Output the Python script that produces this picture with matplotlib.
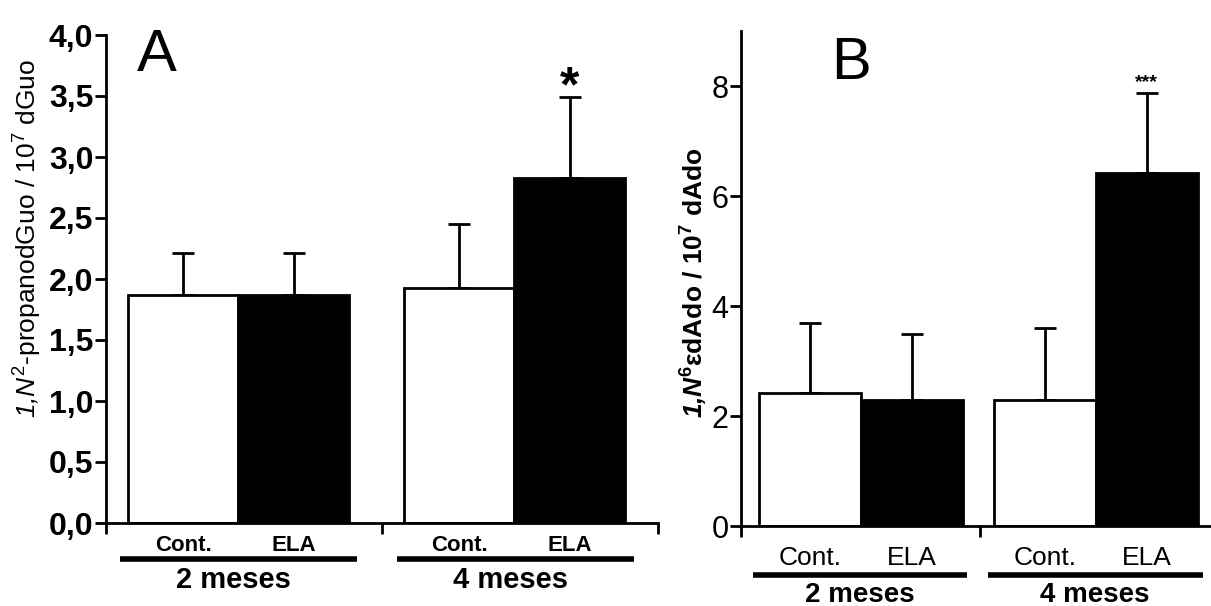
import matplotlib
matplotlib.use('Agg')
import matplotlib.pyplot as plt

plt.rcParams['font.family'] = ['Liberation Sans', 'DejaVu Sans']
plt.rcParams['mathtext.fontset'] = 'custom'
plt.rcParams['mathtext.rm'] = 'Liberation Sans'
plt.rcParams['mathtext.it'] = 'Liberation Sans:italic'
plt.rcParams['mathtext.sf'] = 'Liberation Sans:italic'
plt.rcParams['mathtext.bf'] = 'Liberation Sans:bold'
plt.rcParams['mathtext.bfit'] = 'Liberation Sans:bold:italic'

# Datos
grupos = ['Cont.', 'ELA', 'Cont.', 'ELA']
edades = ['2 meses', '4 meses']
colores = ['white', 'black', 'white', 'black']

media_A = [1.87, 1.87, 1.93, 2.83]
error_A = [0.34, 0.34, 0.52, 0.66]
media_B = [2.42, 2.29, 2.29, 6.42]
error_B = [1.27, 1.20, 1.31, 1.46]

fig = plt.figure(figsize=(12.11, 6.06), dpi=100)
W, H = 1211, 606


def px_axes(x0, x1, y_top, y_bot):
    return fig.add_axes([x0 / W, 1 - y_bot / H, (x1 - x0) / W, (y_bot - y_top) / H])


def panel(ax, medias, errores, pos, xmax, mid, ymax, lw=2):
    ax.bar(pos, medias, width=1.0, color=colores, edgecolor='black',
           linewidth=lw, zorder=2)
    ax.errorbar(pos, medias, yerr=[[0] * len(medias), errores], fmt='none',
                ecolor='black', elinewidth=lw, capsize=8, capthick=lw, zorder=1)
    ax.set_xlim(0, xmax)
    ax.set_ylim(0, ymax)
    for s in ['top', 'right']:
        ax.spines[s].set_visible(False)
    for s in ['left', 'bottom']:
        ax.spines[s].set_linewidth(2)
    ax.set_xticks([0, mid, xmax])
    ax.set_xticklabels([])
    ax.tick_params(axis='x', direction='out', length=8, width=2)
    ax.tick_params(axis='y', direction='out', length=8, width=2, pad=1)


# ---- Panel A ----
axA = px_axes(106, 658, 35, 523)
posA = [0.7, 1.7, 3.2, 4.2]
panel(axA, media_A, error_A, posA, 5.0, 2.5, 4.0)
axA.set_yticks([0, 0.5, 1, 1.5, 2, 2.5, 3, 3.5, 4])
axA.set_yticklabels([f'{v:.1f}'.replace('.', ',') for v in axA.get_yticks()],
                    fontsize=23, fontweight='bold')
trA = axA.get_xaxis_transform()
for p, g in zip(posA, grupos):
    axA.text(p, -0.047, g, transform=trA, ha='center', va='center',
             fontsize=16, fontweight='bold')
for (a, b), e in zip([(0.13, 2.27), (2.64, 4.78)], edades):
    axA.plot([a, b], [-0.074, -0.074], transform=trA, color='black', lw=4,
             clip_on=False, solid_capstyle='butt')
    axA.text((a + b) / 2 - 0.05, -0.117, e, transform=trA, ha='center', va='center',
             fontsize=21, fontweight='bold')
axA.text(0.092, 1.014, 'A', transform=axA.transAxes, fontsize=43, va='top', ha='center')
axA.text(posA[3], 3.56, '*', ha='center', va='center', fontsize=36, fontweight='bold')
fig.text(28 / W, 1 - 238 / H,
         r'$\mathsf{1{,}}\mathit{N}^{2}$-propanodGuo / 10$^{7}$ dGuo',
         rotation=90, ha='center', va='center', fontsize=19)

# ---- Panel B ----
axB = px_axes(741, 1218, 31, 526)
posB = [0.68, 1.68, 2.98, 3.98]
panel(axB, media_B, error_B, posB, 4.68, 2.34, 9.0)
axB.set_yticks([0, 2, 4, 6, 8])
axB.set_yticklabels(['0', '2', '4', '6', '8'], fontsize=22)
trB = axB.get_xaxis_transform()
for p, g in zip(posB, grupos):
    axB.text(p, -0.065, g, transform=trB, ha='center', va='center', fontsize=19)
for (a, b), e in zip([(0.12, 2.22), (2.42, 4.53)], edades):
    axB.plot([a, b], [-0.099, -0.099], transform=trB, color='black', lw=4,
             clip_on=False, solid_capstyle='butt')
    axB.text((a + b) / 2, -0.14, e, transform=trB, ha='center', va='center',
             fontsize=20, fontweight='bold')
axB.text(0.23, 0.99, 'B', transform=axB.transAxes, fontsize=43, va='top', ha='center')
axB.text(posB[3], 8.07, '***', ha='center', va='center', fontsize=14, fontweight='bold')
fig.text(694 / W, 1 - 283 / H,
         r'$\mathbfit{1{,}N}^{\mathbf{6}}$εdAdo / 10$^{\mathbf{7}}$ dAdo',
         rotation=90, ha='center', va='center', fontsize=19, fontweight='bold')

fig.savefig('out.png', dpi=100)
